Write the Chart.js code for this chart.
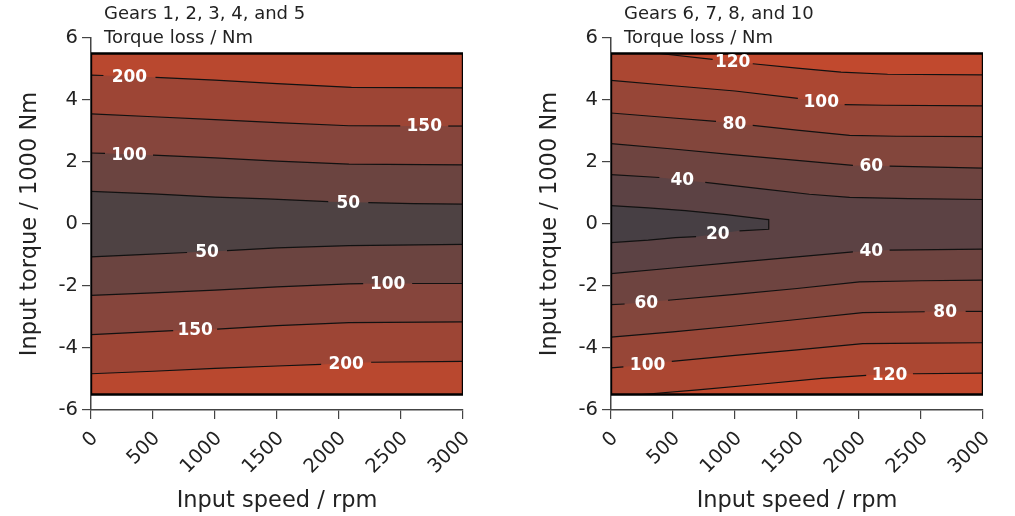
<!DOCTYPE html>
<html>
<head>
<meta charset="utf-8">
<script src="https://cdn.jsdelivr.net/npm/chart.js@4.4.1/dist/chart.umd.min.js"></script>
<style>
  html, body { margin: 0; padding: 0; background: #fff; }
  #wrap { position: relative; width: 1015px; height: 516px; }
  canvas { position: absolute; top: 0; }
  #left { left: 0; }
  #right { left: 520px; }
</style>
</head>
<body>
<div id="wrap">
  <canvas id="left" width="500" height="516"></canvas>
  <canvas id="right" width="495" height="516"></canvas>
</div>
<script>
// axes
const speedTicks = [0, 500, 1000, 1500, 2000, 2500, 3000];
const torqueTicks = [-6, -4, -2, 0, 2, 4, 6];
const speedMin = 0, speedMax = 3000;
const boxTop = 5.5, boxBottom = -5.5;

// gears 1-5 : contour levels and [speed rpm, torque kNm] points on each line
const lowLevels = [50, 100, 150, 200];
const lowColors = ['#4e4243', '#6b4440', '#86453c', '#9d4535', '#b9482f'];
const low50Top = [[0, 1.05], [500, 0.97], [1000, 0.87], [1420, 0.81], [1913, 0.72], [2236, 0.69], [2600, 0.66], [3000, 0.64]];
const low100Top = [[0, 2.29], [113, 2.28], [500, 2.22], [1000, 2.13], [1500, 2.03], [2080, 1.93], [3000, 1.91]];
const low150Top = [[0, 3.55], [500, 3.46], [1000, 3.37], [1500, 3.27], [2080, 3.17], [2494, 3.165], [2881, 3.16], [3000, 3.16]];
const low200Top = [[0, 4.80], [100, 4.79], [520, 4.73], [1000, 4.64], [1500, 4.53], [2100, 4.41], [3000, 4.39]];
const low50Bot = [[0, -1.06], [400, -0.99], [775, -0.92], [1097, -0.86], [1500, -0.77], [2080, -0.70], [3000, -0.66]];
const low100Bot = [[0, -2.30], [500, -2.22], [1000, -2.13], [1500, -2.03], [2080, -1.93], [2195, -1.925], [2590, -1.92], [3000, -1.92]];
const low150Bot = [[0, -3.57], [663, -3.44], [1017, -3.39], [1500, -3.28], [2080, -3.18], [3000, -3.16]];
const low200Bot = [[0, -4.83], [500, -4.75], [1000, -4.66], [1500, -4.58], [1856, -4.53], [2259, -4.46], [3000, -4.43]];

// gears 6, 7, 8 and 10
const highLevels = [20, 40, 60, 80, 100, 120];
const highColors = ['#473f44', '#5c4244', '#6e4440', '#83463c', '#974637', '#ab4732', '#c1492e'];
const high20Loop = [[0, 0.59], [300, 0.52], [600, 0.43], [930, 0.30], [1250, 0.15], [1272, 0.14],
                    [1272, -0.17], [1036, -0.22], [686, -0.41], [520, -0.44], [300, -0.52], [0, -0.60]];
const high40Top = [[0, 1.59], [390, 1.50], [760, 1.34], [1200, 1.14], [1600, 0.96], [1924, 0.86], [2400, 0.82], [3000, 0.79]];
const high60Top = [[0, 2.59], [500, 2.42], [1000, 2.23], [1500, 2.05], [1951, 1.89], [2247, 1.87], [3000, 1.80]];
const high80Top = [[0, 3.58], [500, 3.42], [847, 3.31], [1143, 3.18], [1500, 3.03], [1924, 2.86], [2300, 2.83], [3000, 2.82]];
const high100Top = [[0, 4.63], [500, 4.46], [1000, 4.29], [1507, 4.05], [1884, 3.85], [2200, 3.83], [3000, 3.81]];
const high120Top = [[390, 5.5], [820, 5.31], [1143, 5.17], [1500, 5.03], [1855, 4.90], [2230, 4.83], [3000, 4.81]];
const high40Bot = [[0, -1.60], [500, -1.42], [1000, -1.24], [1500, -1.06], [1951, -0.90], [2247, -0.84], [3000, -0.81]];
const high60Bot = [[0, -2.60], [110, -2.58], [460, -2.46], [1000, -2.27], [1500, -2.08], [2004, -1.87], [2500, -1.83], [3000, -1.81]];
const high80Bot = [[0, -3.65], [500, -3.48], [1000, -3.29], [1500, -3.08], [2031, -2.86], [2530, -2.83], [2860, -2.82], [3000, -2.82]];
const high100Bot = [[0, -4.64], [100, -4.61], [490, -4.43], [1000, -4.24], [1500, -4.06], [2030, -3.86], [2500, -3.84], [3000, -3.83]];
const high120Bot = [[250, -5.5], [700, -5.35], [1200, -5.17], [1700, -4.98], [2058, -4.88], [2435, -4.83], [3000, -4.81]];

const FONT = '"DejaVu Sans"';
const INK = '#222';
const LINE = '#111';

const toXY = pts => pts.map(p => ({ x: p[0], y: p[1] }));

// white labels sit in the gap segment of their line
const contourLabels = {
  id: 'contourLabels',
  afterDatasetsDraw(chart) {
    const ctx = chart.ctx;
    ctx.save();
    ctx.font = 'bold 17px ' + FONT;
    ctx.fillStyle = '#fff';
    ctx.textAlign = 'center';
    ctx.textBaseline = 'middle';
    chart.data.datasets.forEach((ds, i) => {
      if (ds.labelGap == null) return;
      const pts = chart.getDatasetMeta(i).data;
      const a = pts[ds.labelGap], b = pts[ds.labelGap + 1];
      ctx.fillText(ds.labelText, (a.x + b.x) / 2, (a.y + b.y) / 2 + 1);
    });
    ctx.restore();
  }
};

const cornerTitle = {
  id: 'cornerTitle',
  afterDraw(chart, args, opts) {
    const ctx = chart.ctx;
    ctx.save();
    ctx.font = '18px ' + FONT;
    ctx.fillStyle = INK;
    ctx.textBaseline = 'alphabetic';
    opts.lines.forEach((t, k) => ctx.fillText(t, chart.chartArea.left + 13, 19 + k * 23.7));
    ctx.restore();
  }
};

// a band fill (no stroke) and the contour stroke with a gap for the label
function lineSets(pts, level, k, colors, fillTo, gap) {
  return [{
    data: toXY(pts),
    borderWidth: 0,
    pointRadius: 0,
    fill: { value: fillTo },
    backgroundColor: colors[k + 1],
    order: 90 - k
  }, {
    data: toXY(pts),
    borderColor: LINE,
    borderWidth: 1.2,
    pointRadius: 0,
    fill: false,
    order: 10,
    segment: { borderColor: c => (c.p0DataIndex === gap ? 'rgba(0,0,0,0)' : LINE) },
    labelGap: gap,
    labelText: String(level)
  }];
}

function makeChart(id, title, colors, bg, lines, loop, padRight) {
  const sets = [];
  // base band over the whole box
  sets.push({
    data: toXY([[speedMin, boxTop], [speedMax, boxTop]]),
    fill: { value: boxBottom }, backgroundColor: bg, borderWidth: 0, pointRadius: 0, order: 99
  });
  lines.forEach(l => sets.push(...lineSets(l.pts, l.level, l.k, colors, l.top ? boxTop : boxBottom, l.gap)));
  if (loop) {
    const upper = loop.pts.slice(0, loop.split);
    const lower = loop.pts.slice(loop.split).reverse();
    [upper, lower].forEach(part => sets.push({
      data: toXY(part), fill: { value: 0 }, backgroundColor: colors[0],
      borderWidth: 0, pointRadius: 0, order: 50
    }));
    sets.push({
      data: toXY(loop.pts), fill: false, borderColor: LINE, borderWidth: 1.2, pointRadius: 0, order: 5,
      segment: { borderColor: c => (c.p0DataIndex === loop.gap ? 'rgba(0,0,0,0)' : LINE) },
      labelGap: loop.gap, labelText: String(loop.level)
    });
  }
  // frame of the filled box
  sets.push({
    data: toXY([[speedMin, boxTop], [speedMax, boxTop], [speedMax, boxBottom], [speedMin, boxBottom], [speedMin, boxTop]]),
    fill: false, borderColor: '#000', borderWidth: 2.4, pointRadius: 0, order: 0
  });

  const tickFont = { family: FONT, size: 19.5 };
  const titleFont = { family: FONT, size: 22.5 };

  return new Chart(document.getElementById(id), {
    type: 'line',
    data: { datasets: sets },
    plugins: [contourLabels, cornerTitle],
    options: {
      responsive: false,
      animation: false,
      layout: { padding: { top: 38, right: padRight, left: 0, bottom: 0 } },
      plugins: {
        legend: { display: false },
        tooltip: { enabled: false },
        filler: { drawTime: 'beforeDatasetsDraw' },
        cornerTitle: { lines: title }
      },
      scales: {
        x: {
          type: 'linear', min: speedMin, max: speedMax,
          afterBuildTicks: s => { s.ticks = speedTicks.map(v => ({ value: v })); },
          afterFit: s => { s.height = 106; },
          ticks: { color: INK, font: tickFont, maxRotation: 45, minRotation: 45, autoSkip: false, padding: 8, labelOffset: 4, callback: v => String(v) },
          grid: { drawOnChartArea: false, tickLength: 9, color: '#444', lineWidth: 1.2 },
          border: { color: '#444', width: 1.5 },
          title: { display: true, text: 'Input speed / rpm', color: INK, font: titleFont, padding: { top: 0, bottom: 1 } }
        },
        y: {
          type: 'linear', min: -6, max: 6,
          afterBuildTicks: s => { s.ticks = torqueTicks.map(v => ({ value: v })); },
          afterFit: s => { s.width = 91; },
          ticks: { color: INK, font: tickFont, padding: 4, callback: v => String(v) },
          grid: { drawOnChartArea: false, tickLength: 9, color: '#444', lineWidth: 1.2 },
          border: { color: '#444', width: 1.5 },
          title: { display: true, text: 'Input torque / 1000 Nm', color: INK, font: titleFont, padding: { top: 17, bottom: 0 } }
        }
      }
    }
  });
}

makeChart('left', ['Gears 1, 2, 3, 4, and 5', 'Torque loss / Nm'], lowColors, lowColors[0], [
  { pts: low50Top, level: lowLevels[0], k: 0, top: true, gap: 4 },
  { pts: low100Top, level: lowLevels[1], k: 1, top: true, gap: 1 },
  { pts: low150Top, level: lowLevels[2], k: 2, top: true, gap: 5 },
  { pts: low200Top, level: lowLevels[3], k: 3, top: true, gap: 1 },
  { pts: low50Bot, level: lowLevels[0], k: 0, top: false, gap: 2 },
  { pts: low100Bot, level: lowLevels[1], k: 1, top: false, gap: 5 },
  { pts: low150Bot, level: lowLevels[2], k: 2, top: false, gap: 1 },
  { pts: low200Bot, level: lowLevels[3], k: 3, top: false, gap: 4 }
], null, 37);

makeChart('right', ['Gears 6, 7, 8, and 10', 'Torque loss / Nm'], highColors, highColors[1], [
  { pts: high40Top, level: highLevels[1], k: 1, top: true, gap: 1 },
  { pts: high60Top, level: highLevels[2], k: 2, top: true, gap: 4 },
  { pts: high80Top, level: highLevels[3], k: 3, top: true, gap: 2 },
  { pts: high100Top, level: highLevels[4], k: 4, top: true, gap: 3 },
  { pts: high120Top, level: highLevels[5], k: 5, top: true, gap: 1 },
  { pts: high40Bot, level: highLevels[1], k: 1, top: false, gap: 4 },
  { pts: high60Bot, level: highLevels[2], k: 2, top: false, gap: 1 },
  { pts: high80Bot, level: highLevels[3], k: 3, top: false, gap: 5 },
  { pts: high100Bot, level: highLevels[4], k: 4, top: false, gap: 1 },
  { pts: high120Bot, level: highLevels[5], k: 5, top: false, gap: 4 }
], { pts: high20Loop, split: 6, gap: 7, level: highLevels[0] }, 32);
</script>
</body>
</html>
